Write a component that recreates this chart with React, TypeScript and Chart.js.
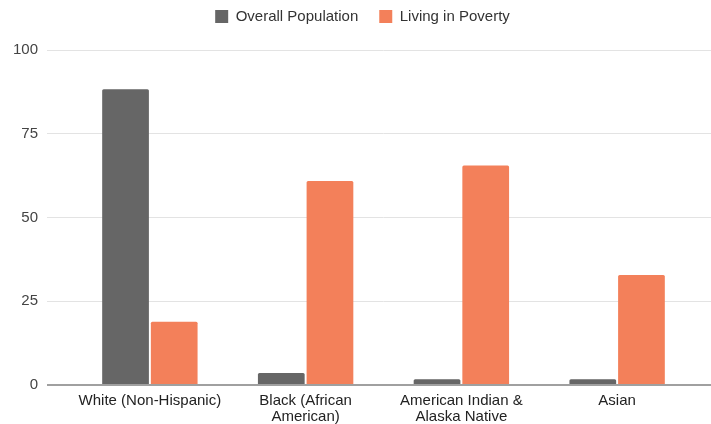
import React, { useEffect, useRef } from "react";
import { Chart, registerables } from "chart.js";

Chart.register(...registerables);

const categories: string[][] = [
  ["White (Non-Hispanic)"],
  ["Black (African", "American)"],
  ["American Indian &", "Alaska Native"],
  ["Asian"],
];
const overallPopulation = [88.3, 3.6, 1.7, 1.7];
const livingInPoverty = [18.9, 60.9, 65.5, 32.8];
const yTicks = [0, 25, 50, 75, 100];

const FONT = "'Liberation Sans', Arial, sans-serif";

export default function App() {
  const ref = useRef<HTMLCanvasElement | null>(null);

  useEffect(() => {
    if (!ref.current) return;
    const gridColor = (ctx: any) => (ctx.tick && ctx.tick.value === 0 ? "#a0a0a0" : "#e3e3e3");
    const gridWidth = (ctx: any) => (ctx.tick && ctx.tick.value === 0 ? 2 : 1);
    const chart = new Chart(ref.current, {
      type: "bar",
      data: {
        labels: categories,
        datasets: [
          {
            label: "Overall Population",
            data: overallPopulation,
            backgroundColor: "#666666",
            borderRadius: 1.5,
            categoryPercentage: 0.625,
            barPercentage: 0.96,
            xAxisID: "x",
            yAxisID: "y",
          },
          {
            label: "Living in Poverty",
            data: livingInPoverty,
            backgroundColor: "#f3805a",
            borderRadius: 1.5,
            categoryPercentage: 0.625,
            barPercentage: 0.96,
            xAxisID: "x",
            yAxisID: "y",
          },
        ],
      },
      options: {
        animation: false,
        responsive: true,
        maintainAspectRatio: false,
        layout: { padding: { left: 14, right: 0, top: -12, bottom: 0 } },
        plugins: {
          tooltip: { enabled: false },
          legend: {
            position: "top",
            align: "center",
            labels: {
              boxWidth: 13,
              boxHeight: 13,
              padding: 21,
              color: "#333333",
              font: { family: FONT, size: 15 },
            },
          },
        },
        scales: {
          x: {
            type: "category",
            offset: true,
            grid: { display: false, drawTicks: false },
            border: { display: false },
            ticks: {
              color: "#222222",
              font: { family: FONT, size: 15, lineHeight: 1.07 },
              padding: 8,
              maxRotation: 0,
              autoSkip: false,
            },
            afterFit: (s: any) => {
              s.height = 39;
            },
          },
          xTop: {
            type: "category",
            position: "top",
            grid: { display: false, drawTicks: false },
            border: { display: false },
            ticks: { display: false },
            afterFit: (s: any) => {
              s.height = 16;
            },
          },
          y: {
            type: "linear",
            position: "left",
            min: 0,
            max: 100,
            afterBuildTicks: (s: any) => {
              s.ticks = yTicks.map((v) => ({ value: v }));
            },
            grid: {
              color: gridColor,
              lineWidth: gridWidth,
              drawTicks: true,
              tickLength: 25,
            },
            border: { display: false },
            ticks: {
              color: "#444444",
              font: { family: FONT, size: 15 },
              padding: 9,
            },
            afterFit: (s: any) => {
              s.width = 58;
            },
          },
          y2: {
            type: "linear",
            position: "right",
            min: 0,
            max: 100,
            afterBuildTicks: (s: any) => {
              s.ticks = yTicks.map((v) => ({ value: v }));
            },
            grid: {
              color: gridColor,
              lineWidth: gridWidth,
              drawOnChartArea: false,
              drawTicks: true,
              tickLength: 16,
            },
            border: { display: false },
            ticks: { callback: () => "", padding: 0 },
            afterFit: (s: any) => {
              s.width = 16;
            },
          },
        },
      },
    });
    return () => chart.destroy();
  }, []);

  return (
    <div style={{ position: "absolute", left: 0, top: 0, width: 711, height: 424, background: "#ffffff" }}>
      <canvas ref={ref} />
    </div>
  );
}
